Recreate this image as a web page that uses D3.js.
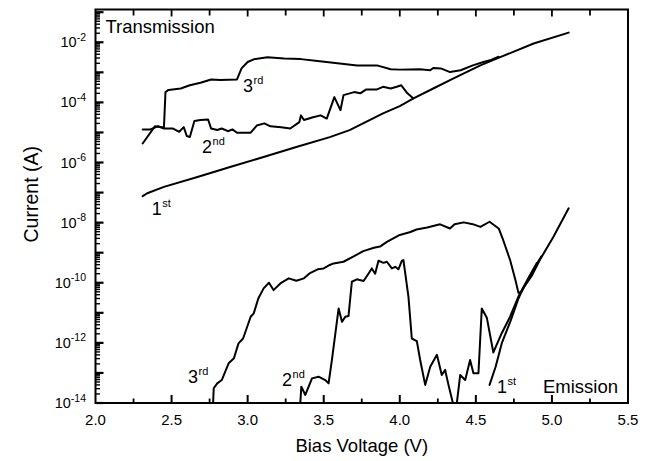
<!DOCTYPE html>
<html>
<head>
<meta charset="utf-8">
<script src="https://cdn.jsdelivr.net/npm/d3@7"></script>
<style>
  body { margin: 0; background: #fff; }
  svg { display: block; font-family: "Liberation Sans", Arial, Helvetica, sans-serif; }
</style>
</head>
<body>
<svg id="chart" width="650" height="461"></svg>
<script>
// ---- axis ticks ----
const xMajorTicks = [2.0, 2.5, 3.0, 3.5, 4.0, 4.5, 5.0, 5.5];
const xMinorTicks = [2.25, 2.75, 3.25, 3.75, 4.25, 4.75, 5.25];
const yLabelExponents = [-2, -4, -6, -8, -10, -12, -14];
const yDecadeExponents = [-14, -13, -12, -11, -10, -9, -8, -7, -6, -5, -4, -3, -2, -1];

// ---- measured I–V curves: [bias voltage (V), current (A)] ----
const transmission1st = [
  [2.31, 7.6e-8], [2.34, 9.5e-8], [2.45, 1.55e-7], [2.67, 3.3e-7], [2.89, 7.2e-7],
  [3.11, 1.55e-6], [3.32, 3.3e-6], [3.54, 7.0e-6], [3.67, 1.2e-5], [3.89, 4.3e-5],
  [4.00, 7.5e-5], [4.09, 1.35e-4], [4.22, 2.9e-4], [4.35, 6.2e-4], [4.53, 1.7e-3],
  [4.66, 3.2e-3], [4.88, 9.1e-3], [5.11, 2.1e-2]
];
const transmission2nd = [
  [2.31, 1.26e-5], [2.36, 1.26e-5], [2.41, 1.6e-5], [2.45, 1.35e-5], [2.51, 1.35e-5],
  [2.55, 1.05e-5], [2.58, 1.5e-5], [2.60, 7.6e-6], [2.62, 7.1e-6], [2.65, 2.4e-5],
  [2.69, 2.6e-5], [2.74, 2.7e-5], [2.76, 1.35e-5], [2.80, 1.2e-5], [2.83, 1.35e-5],
  [2.87, 1.1e-5], [2.90, 1.26e-5], [2.93, 9.8e-6], [3.02, 9.8e-6], [3.06, 1.7e-5],
  [3.11, 2.0e-5], [3.15, 1.6e-5], [3.22, 1.5e-5], [3.28, 1.35e-5], [3.34, 2.2e-5],
  [3.35, 3.7e-5], [3.37, 2.6e-5], [3.43, 3.2e-5], [3.48, 3.7e-5], [3.52, 2.9e-5],
  [3.57, 1.5e-4], [3.61, 5.5e-5], [3.63, 1.74e-4], [3.70, 2.2e-4], [3.74, 2.0e-4],
  [3.78, 2.7e-4], [3.85, 2.7e-4], [3.89, 3.3e-4], [3.94, 2.9e-4], [3.98, 3.3e-4],
  [4.01, 3.7e-4], [4.05, 2.0e-4], [4.09, 1.35e-4]
];
const transmission3rd = [
  [2.31, 4.3e-6], [2.39, 1.6e-5], [2.44, 1.5e-5], [2.45, 1.5e-5], [2.46, 2.2e-4],
  [2.48, 2.6e-4], [2.56, 2.9e-4], [2.62, 3.7e-4], [2.69, 4.5e-4], [2.76, 5.8e-4],
  [2.82, 5.6e-4], [2.93, 5.8e-4], [2.96, 1.35e-3], [3.00, 2.2e-3], [3.04, 2.7e-3],
  [3.13, 3.2e-3], [3.24, 2.9e-3], [3.35, 2.75e-3], [3.46, 2.4e-3], [3.59, 2.0e-3],
  [3.72, 1.7e-3], [3.85, 1.7e-3], [3.94, 1.26e-3], [4.00, 1.23e-3], [4.13, 1.26e-3],
  [4.20, 1.17e-3], [4.22, 1.4e-3], [4.27, 1.35e-3], [4.33, 1.02e-3], [4.40, 1.17e-3],
  [4.48, 1.7e-3], [4.55, 2.2e-3], [4.60, 2.6e-3], [4.65, 3.3e-3]
];
const emission1st = [
  [4.59, 4.0e-14], [4.63, 1.6e-13], [4.67, 9.6e-13], [4.73, 5.7e-12], [4.78, 3.0e-11],
  [4.81, 6.5e-11], [4.87, 1.8e-10], [4.92, 5.7e-10], [5.01, 3.4e-9], [5.11, 3.0e-8]
];
const emission2nd = [
  [3.346, 1e-14], [3.353, 3.5e-14], [3.379, 1.85e-14], [3.423, 6.6e-14], [3.466, 7.5e-14],
  [3.51, 5.8e-14], [3.532, 4.5e-14], [3.554, 2.7e-13], [3.598, 1.4e-11], [3.62, 5.0e-12],
  [3.642, 7.4e-12], [3.663, 7.8e-12], [3.685, 1.08e-10], [3.718, 1.3e-10], [3.762, 1.14e-10],
  [3.794, 2.0e-10], [3.816, 3.0e-10], [3.838, 2.0e-10], [3.86, 5.4e-10], [3.893, 4.6e-10],
  [3.915, 5.0e-10], [3.948, 3.0e-10], [3.97, 3.4e-10], [3.991, 2.8e-10], [4.014, 5.4e-10],
  [4.024, 5.7e-10], [4.057, 3.4e-11], [4.079, 1.4e-12], [4.112, 1.15e-12], [4.134, 2.7e-13],
  [4.167, 4.0e-14], [4.20, 1.6e-13], [4.244, 4.0e-13], [4.276, 8.5e-14], [4.298, 1.26e-13],
  [4.32, 4.0e-14], [4.349, 1e-14], [4.375, 1e-14], [4.397, 8.5e-14], [4.43, 5.8e-14],
  [4.462, 2.7e-13], [4.484, 9.8e-14], [4.517, 9.8e-14], [4.539, 1.4e-11], [4.572, 6.9e-12],
  [4.615, 4.8e-13], [4.67, 2.1e-12], [4.725, 7.4e-12], [4.779, 3.4e-11], [4.80, 5.4e-11],
  [4.85, 1.6e-10], [4.90, 4.5e-10]
];
const emission3rd = [
  [2.773, 1e-14], [2.777, 3.1e-14], [2.80, 4.5e-14], [2.83, 5.8e-14], [2.875, 2.1e-13],
  [2.91, 3.1e-13], [2.94, 9.6e-13], [2.97, 1.4e-12], [3.02, 7.4e-12], [3.04, 9.6e-12],
  [3.07, 3.0e-11], [3.105, 6.5e-11], [3.14, 1.0e-10], [3.17, 5.7e-11], [3.215, 9.5e-11],
  [3.27, 1.4e-10], [3.32, 1.17e-10], [3.37, 1.4e-10], [3.41, 2.1e-10], [3.46, 2.8e-10],
  [3.50, 3.0e-10], [3.54, 3.9e-10], [3.565, 4.4e-10], [3.63, 5.0e-10], [3.70, 7.7e-10],
  [3.76, 1.13e-9], [3.83, 1.46e-9], [3.87, 1.6e-9], [3.915, 2.3e-9], [4.00, 3.9e-9],
  [4.07, 4.9e-9], [4.11, 5.9e-9], [4.18, 6.9e-9], [4.265, 8.8e-9], [4.33, 6.4e-9],
  [4.36, 8.9e-9], [4.42, 1.02e-8], [4.48, 8.9e-9], [4.53, 7.2e-9], [4.59, 1.07e-8],
  [4.65, 6.4e-9], [4.68, 2.6e-9], [4.725, 5.7e-10], [4.76, 1.23e-10], [4.78, 4.6e-11],
  [4.80, 5.0e-11], [4.85, 1.5e-10], [4.90, 4.2e-10], [4.93, 7.5e-10]
];

// ---- curve annotations: ordinal + superscript suffix, anchored in data units ----
const curveLabels = [
  { num: "3", sup: "rd", v: 2.97, i: 2.2e-4 },
  { num: "2", sup: "nd", v: 2.70, i: 2.0e-6 },
  { num: "1", sup: "st", v: 2.37, i: 1.8e-8 },
  { num: "3", sup: "rd", v: 2.608, i: 4.6e-14 },
  { num: "2", sup: "nd", v: 3.226, i: 3.7e-14 },
  { num: "1", sup: "st", v: 4.639, i: 2.1e-14 }
];

// ---- layout ----
const plot = { left: 95.5, right: 628, top: 9.5, bottom: 403 };
const svg = d3.select("#chart");

const x = d3.scaleLinear().domain([2, 5.5]).range([plot.left, plot.right]);
const y = d3.scaleLog().domain([1e-14, Math.pow(10, -0.91)]).range([plot.bottom, plot.top]);

// clip for the curves
svg.append("defs").append("clipPath").attr("id", "plotClip")
  .append("rect")
  .attr("x", plot.left).attr("y", plot.top)
  .attr("width", plot.right - plot.left).attr("height", plot.bottom - plot.top);

// ---- inward ticks ----
const tickLayer = svg.append("g").attr("stroke", "#000");

function xTicks(values, yBase, len, width) {
  tickLayer.append("g").selectAll("line").data(values).join("line")
    .attr("x1", d => x(d)).attr("x2", d => x(d))
    .attr("y1", yBase).attr("y2", yBase + len)
    .attr("stroke-width", width);
}
function yTicks(values, len, width) {
  tickLayer.append("g").selectAll("line").data(values).join("line")
    .attr("x1", plot.left).attr("x2", plot.left + len)
    .attr("y1", d => y(d)).attr("y2", d => y(d))
    .attr("stroke-width", width);
}

// bottom (pointing up) and top (pointing down)
xTicks(xMajorTicks.slice(1, -1), plot.bottom, -8, 2);
xTicks(xMinorTicks, plot.bottom, -4.5, 1.8);
xTicks(xMajorTicks.slice(1, -1), plot.top, 7, 1.8);
xTicks(xMinorTicks, plot.top, 6, 1.8);

// left: decades and log minors
const yMinorTicks = [];
yDecadeExponents.forEach(e => {
  for (let k = 2; k <= 9; k++) {
    const v = k * Math.pow(10, e);
    if (v <= y.domain()[1]) yMinorTicks.push(v);
  }
});
yTicks(yDecadeExponents.map(e => Math.pow(10, e)), 8, 2.2);
yTicks(yMinorTicks, 4.5, 1.4);

// bottom tick labels
svg.append("g").selectAll("text").data(xMajorTicks).join("text")
  .attr("x", d => x(d)).attr("y", plot.bottom + 22)
  .attr("text-anchor", "middle").attr("font-size", 15).attr("fill", "#000")
  .text(d3.format(".1f"));

// left tick labels as 10 with a superscript exponent
const yLab = svg.append("g").attr("fill", "#000");
yLabelExponents.forEach(e => {
  const t = yLab.append("text")
    .attr("x", plot.left - 9.5)
    .attr("y", y(Math.pow(10, e)) + 5)
    .attr("text-anchor", "end")
    .attr("font-size", 14.5);
  t.append("tspan").text("10");
  t.append("tspan").attr("font-size", 10.5).attr("dy", -6.5).text("-" + Math.abs(e));
});

// frame
svg.append("rect")
  .attr("x", plot.left).attr("y", plot.top)
  .attr("width", plot.right - plot.left).attr("height", plot.bottom - plot.top)
  .attr("fill", "none").attr("stroke", "#000").attr("stroke-width", 2);

// ---- curves ----
const line = d3.line().x(d => x(d[0])).y(d => y(d[1]));
const curves = [transmission1st, transmission2nd, transmission3rd, emission1st, emission2nd, emission3rd];
svg.append("g").attr("clip-path", "url(#plotClip)")
  .selectAll("path").data(curves).join("path")
  .attr("d", line)
  .attr("fill", "none")
  .attr("stroke", "#000")
  .attr("stroke-width", 2)
  .attr("stroke-linejoin", "round")
  .attr("stroke-linecap", "round");

// ---- curve labels ----
curveLabels.forEach(l => {
  const t = svg.append("text")
    .attr("x", x(l.v)).attr("y", y(l.i))
    .attr("font-size", 18).attr("fill", "#000");
  t.append("tspan").text(l.num);
  t.append("tspan").attr("font-size", 11).attr("dy", -8).attr("dx", 0.5).text(l.sup);
});

// ---- panel captions ----
svg.append("text").attr("x", plot.left + 10).attr("y", plot.top + 23)
  .attr("font-size", 18.5).attr("fill", "#000").text("Transmission");
svg.append("text").attr("x", plot.right - 10).attr("y", plot.bottom - 10)
  .attr("text-anchor", "end")
  .attr("font-size", 18.5).attr("fill", "#000").text("Emission");

// ---- axis titles ----
svg.append("text")
  .attr("x", (plot.left + plot.right) / 2).attr("y", 452)
  .attr("text-anchor", "middle").attr("font-size", 18.5).attr("fill", "#000")
  .text("Bias Voltage (V)");
svg.append("text")
  .attr("transform", `translate(38,${(plot.top + plot.bottom) / 2 - 12}) rotate(-90)`)
  .attr("text-anchor", "middle").attr("font-size", 19.5).attr("fill", "#000")
  .text("Current (A)");
</script>
</body>
</html>
